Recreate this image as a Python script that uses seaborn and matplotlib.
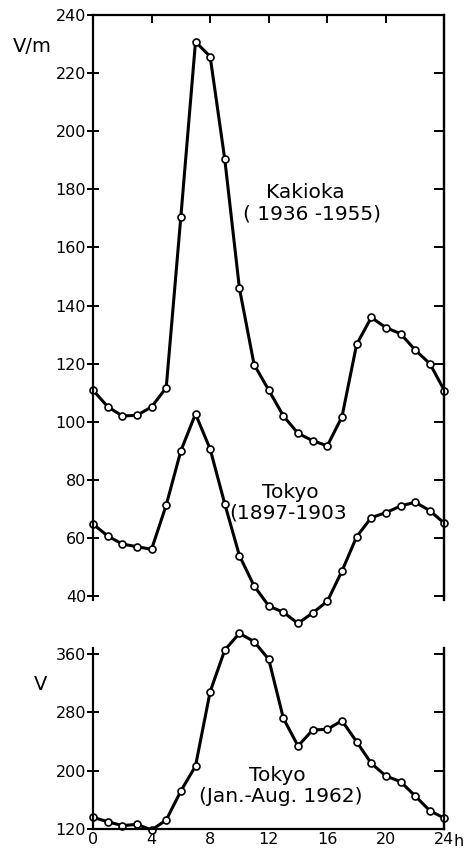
import numpy as np
import seaborn as sns
import matplotlib.pyplot as plt

# %% Data: hourly mean values
hours = list(range(0, 25))

kakioka = [110.9, 105.2, 102.0, 102.2, 105.1, 111.7, 170.6, 230.8, 225.7, 190.3,
           145.9, 119.7, 110.9, 102.0, 96.0, 93.5, 91.7, 101.7, 126.6, 135.9,
           132.4, 130.3, 124.7, 120.0, 110.7]

tokyo_old = [64.8, 60.7, 57.9, 57.0, 56.1, 71.3, 90.0, 102.7, 90.6, 71.7,
             53.9, 43.5, 36.6, 34.4, 30.6, 34.2, 38.2, 48.6, 60.4, 67.0,
             68.7, 71.0, 72.3, 69.4, 65.0]

tokyo_1962 = [136, 130, 124.6, 126.4, 118.6, 132.3, 172.1, 206.4, 308.3, 365.5,
              388.4, 377, 352.7, 271.8, 233.8, 255.8, 256.7, 268.5, 239.7, 210,
              192.7, 184.9, 165.3, 145.1, 134.7]

top_yticks = list(range(40, 241, 20))
bot_yticks = [120, 200, 280, 360]
xticks = [0, 4, 8, 12, 16, 20, 24]

# %% Style
sns.set_style("white")
plt.rcParams['font.family'] = ['DejaVu Sans']
plt.rcParams['text.color'] = 'black'
plt.rcParams['xtick.color'] = 'black'
plt.rcParams['ytick.color'] = 'black'
plt.rcParams['axes.labelcolor'] = 'black'

fig = plt.figure(figsize=(4.67, 8.49), dpi=100)
ax1 = fig.add_axes([0.1991, 0.2928, 0.7527, 0.6895])
ax2 = fig.add_axes([0.1991, 0.02356, 0.7527, 0.2130])

line_kw = dict(color='black', linewidth=2.2, marker='o', markersize=5,
               markerfacecolor='white', markeredgecolor='black',
               markeredgewidth=1.2, clip_on=False, solid_joinstyle='round')

sns.lineplot(x=hours, y=kakioka, ax=ax1, **line_kw)
sns.lineplot(x=hours, y=tokyo_old, ax=ax1, **line_kw)
sns.lineplot(x=hours, y=tokyo_1962, ax=ax2, **line_kw)

# %% Top panel
ax1.set_xlim(0, 24)
ax1.set_ylim(38.5, 240)
ax1.spines['bottom'].set_visible(False)
for s in ['left', 'right', 'top']:
    ax1.spines[s].set_linewidth(1.6)
    ax1.spines[s].set_color('black')
ax1.set_yticks(top_yticks)
ax1.set_xticks([4, 8, 12, 16, 20])
ax1.tick_params(axis='x', bottom=False, top=True, labelbottom=False,
                direction='in', length=6, width=1.4)
ax1.tick_params(axis='y', left=True, right=False, direction='inout',
                length=8, width=1.4, labelsize=11.5, pad=1)
ax1r = ax1.secondary_yaxis('right')
ax1r.set_yticks(top_yticks)
ax1r.tick_params(direction='in', length=7, width=1.4, labelright=False)
ax1r.spines['right'].set_linewidth(1.6)

ax1.text(14.5, 179, 'Kakioka', ha='center', va='center', fontsize=14.5)
ax1.text(14.95, 171.5, '( 1936 -1955)', ha='center', va='center', fontsize=14.5)
ax1.text(13.45, 75.8, 'Tokyo', ha='center', va='center', fontsize=14.5)
ax1.text(13.3, 68.6, '(1897-1903', ha='center', va='center', fontsize=14.5)
fig.text(32 / 467, 1 - 47 / 849, 'V/m', ha='center', va='center', fontsize=14)

# %% Bottom panel
ax2.set_xlim(0, 24)
ax2.set_ylim(120, 368)
ax2.spines['top'].set_visible(False)
for s in ['left', 'right', 'bottom']:
    ax2.spines[s].set_linewidth(1.6)
    ax2.spines[s].set_color('black')
ax2.set_yticks(bot_yticks)
ax2.set_xticks(xticks)
ax2.set_xticklabels([str(t) for t in xticks])
ax2.tick_params(axis='x', direction='in', length=5, width=1.4,
                labelsize=11.5, pad=2)
ax2.tick_params(axis='y', left=True, direction='inout', length=8,
                width=1.4, labelsize=11.5, pad=1)
ax2r = ax2.secondary_yaxis('right')
ax2r.set_yticks(bot_yticks)
ax2r.tick_params(direction='in', length=7, width=1.4, labelright=False)
ax2r.spines['right'].set_linewidth(1.6)

ax2.text(12.56, 194, 'Tokyo', ha='center', va='center', fontsize=14.5)
ax2.text(12.8, 164, '(Jan.-Aug. 1962)', ha='center', va='center', fontsize=14.5)
fig.text(41 / 467, 1 - 685 / 849, 'V', ha='center', va='center', fontsize=14)
fig.text(459 / 467, 1 - 841 / 849, 'h', ha='center', va='center', fontsize=11.5)

ax1.set_xlabel('')
ax2.set_xlabel('')
fig.savefig('out.png', dpi=100)
